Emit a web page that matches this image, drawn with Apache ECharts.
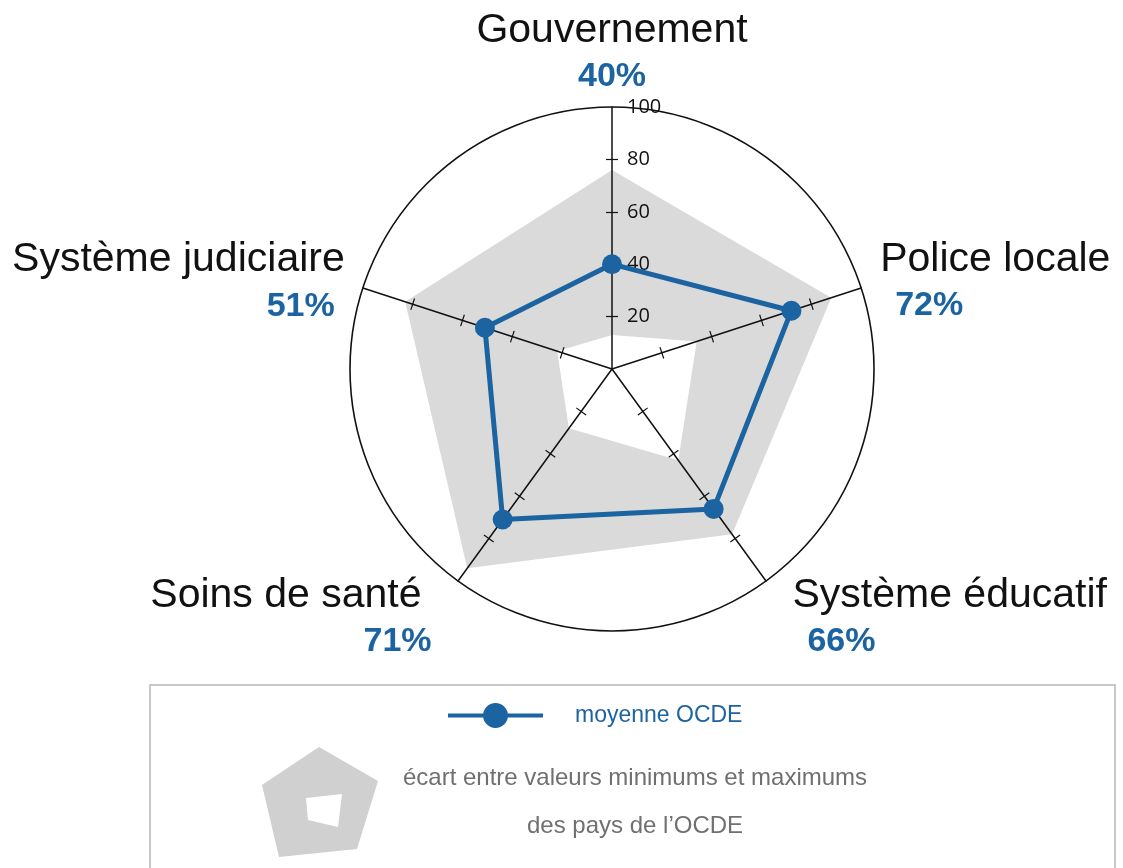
<!DOCTYPE html>
<html>
<head>
<meta charset="utf-8">
<script src="https://cdn.jsdelivr.net/npm/echarts@6/dist/echarts.min.js"></script>
<style>
html,body{margin:0;padding:0;background:#fff;}
#chart{width:1123px;height:868px;}
</style>
</head>
<body>
<div id="chart"></div>
<script>
// Axes listed in ECharts radar order (top, then counter-clockwise)
const categories = ['Gouvernement', 'Système judiciaire', 'Soins de santé', 'Système éducatif', 'Police locale'];
const meanValues = [40, 51, 71, 66, 72];   // moyenne OCDE (%)
const minValues  = [13, 22, 28, 43, 34];   // minimum des pays de l'OCDE
const maxValues  = [76, 83, 94, 78, 88];   // maximum des pays de l'OCDE
const tickValues = [20, 40, 60, 80];
const tickLabels = [20, 40, 60, 80, 100];
const meanName = 'moyenne OCDE';
const bandName = 'écart entre valeurs minimums et maximums';
const bandName2 = 'des pays de l\u2019OCDE';

// layout (not data)
const nameGaps = [8, 19, 45, 45, 20];
const pctStyle = ['p', 'pr', 'p', 'pl', 'pl'];
const nameStyle = ['n', 'n', 'nr', 'n', 'n'];

const BLUE = '#1c63a1';
const GRAY = '#dadada';
const SANS = "'Liberation Sans', Arial, Helvetica, sans-serif";

const chart = echarts.init(document.getElementById('chart'), null, {renderer: 'canvas'});

function indicators(extra) {
  return categories.map((c, i) => Object.assign({name: c, min: 0, max: 100}, extra ? extra(i) : {}));
}

const common = {center: [612, 369], radius: 262, shape: 'circle', startAngle: 90};

const option = {
  backgroundColor: '#ffffff',
  animation: false,
  radar: [
    Object.assign({}, common, {
      z: 1,
      indicator: indicators(),
      splitNumber: 1,
      axisName: {show: false},
      axisLine: {show: false},
      axisTick: {show: false},
      axisLabel: {show: false},
      splitArea: {show: false},
      splitLine: {show: true, lineStyle: {color: '#111', width: 1.6}}
    }),
    Object.assign({}, common, {
      z: 3,
      splitNumber: 5,
      indicator: indicators(i => ({
        nameGap: nameGaps[i],
        axisLabel: {show: i === 0}
      })),
      axisName: {
        show: true,
        formatter: function (name) {
          const i = categories.indexOf(name);
          return '{' + nameStyle[i] + '|' + name + '}\n{' + pctStyle[i] + '|' + meanValues[i] + '%}';
        },
        rich: {
          n: {fontSize: 41, fontFamily: SANS, color: '#111', lineHeight: 48},
          nr: {fontSize: 41, fontFamily: SANS, color: '#111', lineHeight: 48, padding: [0, 10, 0, 0]},
          p: {fontSize: 34, fontFamily: SANS, fontWeight: 'bold', color: BLUE, lineHeight: 44},
          pl: {fontSize: 34, fontFamily: SANS, fontWeight: 'bold', color: BLUE, lineHeight: 44, padding: [0, 0, 0, 15]},
          pr: {fontSize: 34, fontFamily: SANS, fontWeight: 'bold', color: BLUE, lineHeight: 44, padding: [0, 10, 0, 0]}
        }
      },
      axisLine: {show: true, lineStyle: {color: '#111', width: 1.5}},
      axisTick: {show: true, length: 6, customValues: tickValues, lineStyle: {color: '#111', width: 1.2}},
      axisLabel: {show: false, customValues: tickLabels, fontSize: 20, fontFamily: "'Open Sans', 'Noto Sans', sans-serif", color: '#111', margin: -15, align: 'left'},
      splitLine: {show: false},
      splitArea: {show: false}
    }),
    Object.assign({}, common, {
      z: 3,
      splitNumber: 5,
      indicator: indicators(),
      axisName: {show: false},
      axisLine: {show: false},
      axisTick: {show: true, length: -6, customValues: tickValues, lineStyle: {color: '#111', width: 1.2}},
      axisLabel: {show: false},
      splitLine: {show: false},
      splitArea: {show: false}
    })
  ],
  legend: [
    {
      selectedMode: false,
      left: 448, top: 703, padding: 0,
      itemWidth: 95, itemHeight: 26,
      data: [{name: meanName, icon: 'path://M0,11H95V15H0Z M35,13A12.5,12.5 0 1,1 60,13A12.5,12.5 0 1,1 35,13Z'}],
      textStyle: {color: BLUE, fontSize: 23, fontFamily: SANS, padding: [0, 0, 0, 27]}
    },
    {
      selectedMode: false,
      left: 262, top: 747, padding: 0,
      itemWidth: 116, itemHeight: 110,
      data: [{name: bandName, icon: 'path://M57,0L116,34L95,102L17,110L0,38Z M44,51L46,73L76,80L80,47Z', itemStyle: {color: '#d0d0d0'}}],
      formatter: function (name) { return '{t|' + name + '}\n{t|' + bandName2 + '}'; },
      textStyle: {
        padding: [0, 0, 0, 22],
        rich: {t: {width: 460, align: 'center', fontSize: 24, lineHeight: 48, color: '#707070', fontFamily: SANS}}
      }
    }
  ],
  graphic: [
    {type: 'rect', z: 0, shape: {x: 150, y: 685, width: 965, height: 200}, style: {fill: '#fff', stroke: '#b8b8b8', lineWidth: 1.5}}
  ],
  series: [
    {
      type: 'radar', radarIndex: 0, z: 2, silent: true,
      symbol: 'none',
      data: [
        {name: bandName, value: maxValues, itemStyle: {color: GRAY}, areaStyle: {color: GRAY, opacity: 1}, lineStyle: {width: 0, opacity: 0}},
        {name: 'min', value: minValues, itemStyle: {color: '#fff'}, areaStyle: {color: '#ffffff', opacity: 1}, lineStyle: {width: 0, opacity: 0}}
      ]
    },
    {
      type: 'radar', radarIndex: 1, z: 4,
      symbol: 'circle', symbolSize: 20,
      data: [
        {name: meanName, value: meanValues, itemStyle: {color: BLUE}, lineStyle: {color: BLUE, width: 5}}
      ]
    }
  ]
};
chart.setOption(option);
</script>
</body>
</html>
